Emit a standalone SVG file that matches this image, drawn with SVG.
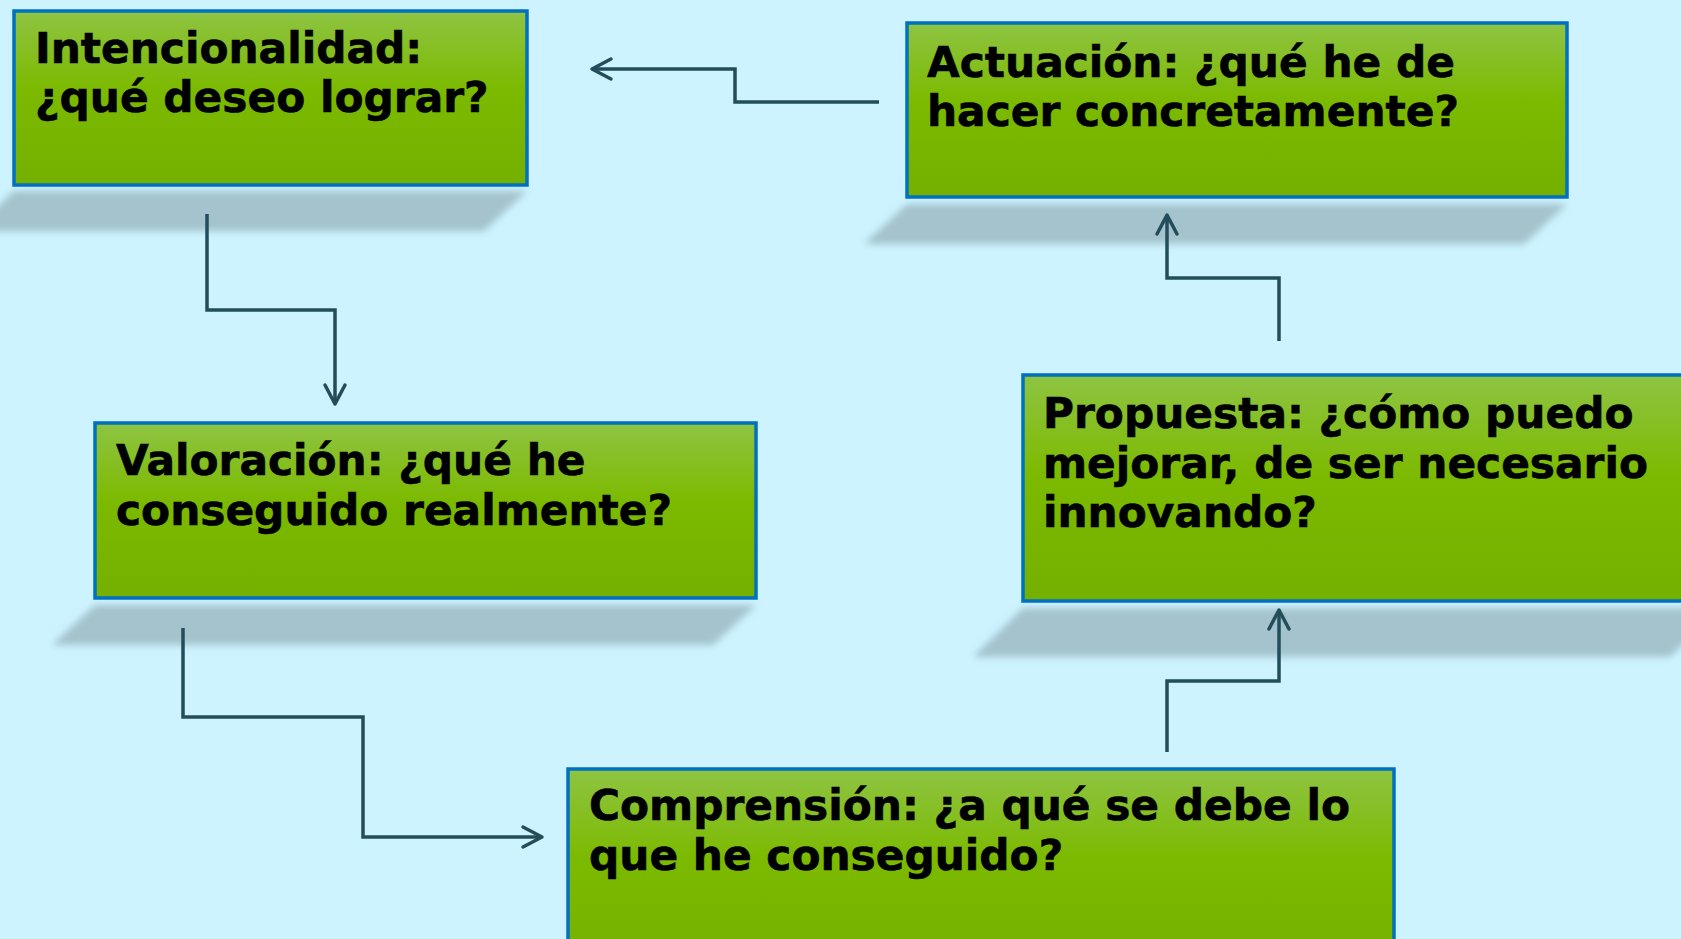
<svg xmlns="http://www.w3.org/2000/svg" width="1681" height="939" viewBox="0 0 1681 939">
  <defs>
    <linearGradient id="gfill" x1="0" y1="0" x2="0" y2="1">
      <stop offset="0" stop-color="#8EC443"/>
      <stop offset="0.45" stop-color="#7CBA00"/>
      <stop offset="1" stop-color="#74B000"/>
    </linearGradient>
    <filter id="blur" x="-10%" y="-50%" width="120%" height="200%">
      <feGaussianBlur stdDeviation="3.5"/>
    </filter>
    <marker id="arr" markerUnits="userSpaceOnUse" markerWidth="30" markerHeight="30" viewBox="-25 -15 30 30" refX="0" refY="0" orient="auto">
      <path d="M-19,-10 L0,0 L-19,10" fill="none" stroke="#234D5B" stroke-width="3.5" stroke-linecap="round" stroke-linejoin="round"/>
    </marker>
    <style>
      .shadow { fill: #A4C3CC; filter: url(#blur); }
      .box { fill: url(#gfill); stroke: #0070C0; stroke-width: 3.5; }
      .lbl { font-family: "DejaVu Sans", Verdana, sans-serif; font-weight: bold; font-size: 42.3px; fill: #000; stroke: #000; stroke-width: 0.6px; }
      .conn { fill: none; stroke: #234D5B; stroke-width: 3.5; stroke-linejoin: miter; marker-end: url(#arr); }
    </style>
  </defs>
  <rect x="0" y="0" width="1681" height="939" fill="#CCF3FF"/>

  <g id="shadows">
    <polygon class="shadow" points="14,191 527,191 484,231 -29,231"/>
    <polygon class="shadow" points="907,204 1567,204 1524,244 864,244"/>
    <polygon class="shadow" points="1023,608 1720,608 1670,657 973,657"/>
    <polygon class="shadow" points="95,605 756,605 713,645 52,645"/>
  </g>

  <g id="node-intencionalidad">
    <rect class="box" x="14" y="11" width="513" height="174"/>
    <text class="lbl" x="35" y="63">Intencionalidad:</text>
    <text class="lbl" x="35" y="112">¿qué deseo lograr?</text>
  </g>

  <g id="node-actuacion">
    <rect class="box" x="907" y="23" width="660" height="174"/>
    <text class="lbl" x="927" y="77">Actuación: ¿qué he de</text>
    <text class="lbl" x="927" y="126">hacer concretamente?</text>
  </g>

  <g id="node-propuesta">
    <rect class="box" x="1023" y="375" width="700" height="226"/>
    <text class="lbl" x="1043" y="428">Propuesta: ¿cómo puedo</text>
    <text class="lbl" x="1043" y="478">mejorar, de ser necesario</text>
    <text class="lbl" x="1043" y="527">innovando?</text>
  </g>

  <g id="node-valoracion">
    <rect class="box" x="95" y="423" width="661" height="175"/>
    <text class="lbl" x="116" y="475">Valoración: ¿qué he</text>
    <text class="lbl" x="116" y="525">conseguido realmente?</text>
  </g>

  <g id="node-comprension">
    <rect class="box" x="568" y="769" width="826" height="200"/>
    <text class="lbl" x="589" y="820">Comprensión: ¿a qué se debe lo</text>
    <text class="lbl" x="589" y="870">que he conseguido?</text>
  </g>

  <g id="connectors">
    <path class="conn" d="M207,214 V310 H335 V404"/>
    <path class="conn" d="M183,628 V717 H363 V837 H542"/>
    <path class="conn" d="M1167,752 V681 H1279 V610"/>
    <path class="conn" d="M1279,341 V278 H1167 V215"/>
    <path class="conn" d="M879,102 H735 V69 H592"/>
  </g>
</svg>
